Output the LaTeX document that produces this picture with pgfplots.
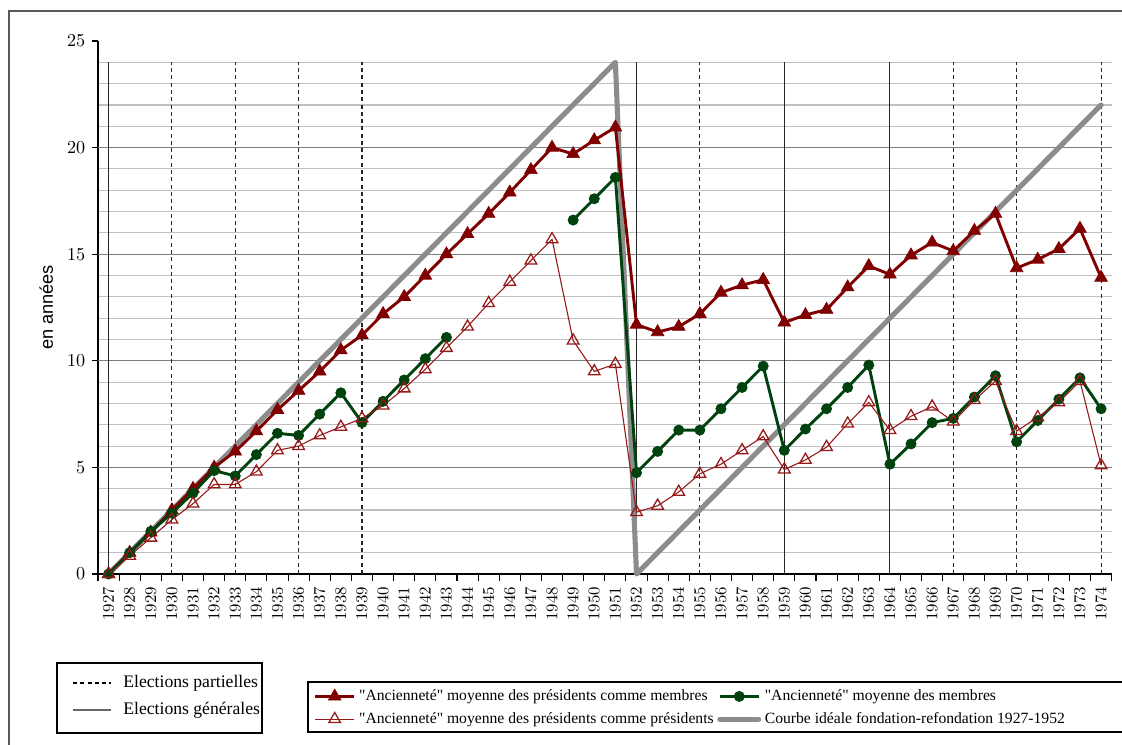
\documentclass[border=0pt]{standalone}
\usepackage{pgfplots}
\pgfplotsset{compat=1.18}
\usepackage{pgfplotstable}
\usepackage{fontspec}
\setmainfont{Liberation Serif}[Ligatures=TeXOff]
\newfontfamily\sansf{Liberation Sans}

\definecolor{rouge}{RGB}{128,0,0}
\definecolor{rougeclair}{RGB}{150,25,25}
\definecolor{vert}{RGB}{0,66,14}
\definecolor{gris}{RGB}{140,140,140}

% anciennete moyenne : presidents comme membres, membres, presidents comme presidents
\pgfplotstableread{
year pcm   mem  pcp
1927 0     0    0
1928 1     1    0.85
1929 1.95  2    1.7
1930 3     2.85 2.55
1931 4     3.8  3.3
1932 5     4.85 4.2
1933 5.75  4.6  4.2
1934 6.7   5.6  4.8
1935 7.7   6.6  5.8
1936 8.6   6.5  6
1937 9.5   7.5  6.5
1938 10.5  8.5  6.9
1939 11.2  7.1  7.3
1940 12.2  8.1  7.9
1941 13.0  9.1  8.7
1942 14.0  10.1 9.6
1943 15.0  11.1 10.6
1944 15.95 nan  11.6
1945 16.9  nan  12.7
1946 17.9  nan  13.7
1947 18.95 nan  14.7
1948 20.0  nan  15.7
1949 19.7  16.6 10.95
1950 20.35 17.6 9.5
1951 20.95 18.6 9.85
1952 11.7  4.75 2.9
1953 11.35 5.75 3.2
1954 11.6  6.75 3.85
1955 12.2  6.75 4.7
1956 13.2  7.75 5.15
1957 13.55 8.75 5.8
1958 13.8  9.75 6.45
1959 11.8  5.8  4.9
1960 12.15 6.8  5.35
1961 12.4  7.75 5.95
1962 13.45 8.75 7.05
1963 14.45 9.8  8.05
1964 14.05 5.15 6.75
1965 14.95 6.1  7.4
1966 15.55 7.1  7.85
1967 15.15 7.3  7.15
1968 16.1  8.3  8.15
1969 16.9  9.3  9.05
1970 14.35 6.2  6.7
1971 14.75 7.2  7.35
1972 15.25 8.2  8.05
1973 16.2  9.2  9.05
1974 13.9  7.75 5.1
}\anciennete

% courbe ideale fondation-refondation
\pgfplotstableread{
year ideal
1927 0
1951 24
1952 0
1974 22
}\ideale

\begin{document}
\begin{tikzpicture}
\begin{axis}[
  at={(0,0)}, anchor=south west,
  scale only axis, width=557.5pt, height=293.15pt,
  xmin=1926.5, xmax=1974.5, ymin=0, ymax=25,
  axis x line*=bottom, axis y line*=left,
  axis line style={-, line width=0.6pt},
  clip=false,
  unbounded coords=jump,
  tick align=outside,
  tick style={black, line width=0.6pt},
  major tick length=3.5pt, minor tick length=3.7pt,
  xtick={1927,...,1974},
  minor xtick={1926.5,1927.5,...,1974.5},
  major x tick style={draw=none},
  xticklabel style={rotate=90, anchor=east, font=\fontsize{8.9}{10}\selectfont,
    /pgf/number format/1000 sep={}},
  ytick={0,5,...,25},
  yticklabel style={font=\fontsize{10}{12}\selectfont},
  minor ytick={1,2,3,4,6,7,8,9,11,12,13,14,16,17,18,19,21,22,23,24},
  minor y tick style={draw=none},
  yminorgrids,
  minor grid style={gris!55, line width=0.6pt},
  extra y ticks={5,10,15,20}, extra y tick labels={},
  extra y tick style={grid=major, major grid style={gris!90!black, line width=0.6pt}, tick style={draw=none}},
  ylabel={\sansf en années},
  ylabel style={font=\fontsize{8.2}{10}\selectfont},
  every axis y label/.style={at={(axis description cs:-0.051,0.5)}, rotate=90, anchor=center},
  legend columns=2, legend cell align=left,
  legend style={at={(axis description cs:0.2072,-0.2026)}, anchor=north west,
    draw=none, fill=none, font=\fontsize{8.6}{10}\selectfont, row sep=1pt},
  legend image code/.code={\draw[mark repeat=2,mark phase=2,#1] plot coordinates {(0cm,0cm) (0.375cm,0cm) (0.75cm,0cm)};},
]
% elections partielles / generales
\addplot[forget plot, ycomb, no markers, black!85, line width=0.6pt, dash pattern=on 2.2pt off 1.8pt]
  coordinates {(1930,24) (1933,24) (1936,24) (1939,24) (1955,24) (1967,24) (1970,24) (1974,24)};
\addplot[forget plot, ycomb, no markers, black!85, line width=0.6pt]
  coordinates {(1927,24) (1952,24) (1959,24) (1964,24)};

\addplot[forget plot, gris, line width=2.8pt, line join=round, line cap=round, no markers]
  table[x=year, y=ideal] {\ideale};

\addplot[rouge, line width=1.6pt, mark=triangle*, mark size=4pt, mark options={solid, line width=0.4pt}]
  table[x=year, y=pcm] {\anciennete};
\addlegendentry{"Ancienneté" moyenne des présidents comme membres}
\addplot[vert, line width=1.6pt, mark=*, mark size=2.8pt, mark options={solid, line width=0.4pt}]
  table[x=year, y=mem] {\anciennete};
\addlegendentry{"Ancienneté" moyenne des membres}
\addplot[rougeclair, line width=0.6pt, mark=triangle, mark size=3.7pt, mark options={solid, line width=0.7pt}]
  table[x=year, y=pcp] {\anciennete};
\addlegendentry{"Ancienneté" moyenne des présidents comme présidents}
\addlegendimage{gris, line width=2.8pt, line cap=round, no markers}
\addlegendentry{Courbe idéale fondation-refondation 1927-1952}
\end{axis}

% legende des elections
\draw[line width=0.6pt] (-22.55pt,-48.95pt) rectangle (90.2pt,-87.45pt);
\draw[black, line width=0.6pt, dash pattern=on 2.2pt off 1.8pt] (-13.75pt,-59.95pt) -- (7.15pt,-59.95pt);
\draw[gray!80!black, line width=0.8pt] (-13.75pt,-74.8pt) -- (7.15pt,-74.8pt);
\node[anchor=west, inner sep=0pt, font=\fontsize{9.7}{12}\selectfont] at (13.75pt,-59.95pt) {Elections partielles};
\node[anchor=west, inner sep=0pt, font=\fontsize{9.7}{12}\selectfont] at (13.75pt,-74.8pt) {Elections générales};

% cadre de la legende des series
\draw[line width=0.7pt] (570pt,-59.4pt) -- (115.5pt,-59.4pt) -- (115.5pt,-86.9pt) -- (570pt,-86.9pt);

% cadre de la page
\draw[gray!70!black, line width=1.1pt] (-48.95pt,-100pt) -- (-48.95pt,309.65pt) -- (570pt,309.65pt);

\pgfresetboundingbox
\path[use as bounding box] (-53.9pt,-93.5pt) rectangle (563.2pt,315.7pt);
\end{tikzpicture}
\end{document}
